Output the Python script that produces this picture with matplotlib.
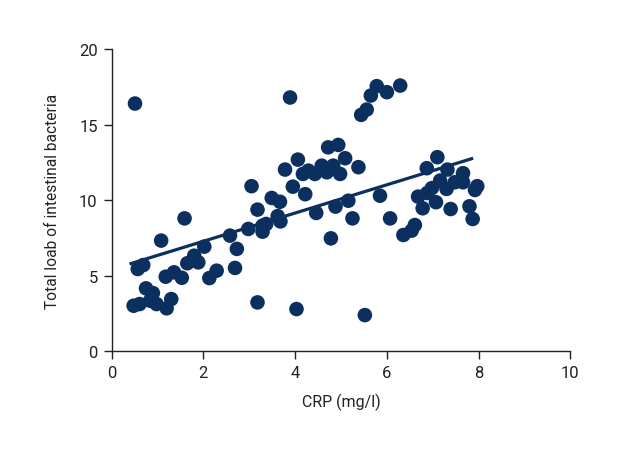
import matplotlib
matplotlib.use("Agg")
import matplotlib.pyplot as plt
from matplotlib import font_manager

crp = [0.51, 0.48, 0.61, 0.84, 0.98, 1.20, 1.30, 0.75, 0.90, 0.57, 0.69,
       1.18, 1.36, 1.53, 1.08, 1.59, 1.65, 1.80, 1.89, 2.02, 2.13, 2.29,
       2.69, 2.73, 2.58, 2.98, 3.18, 3.05, 3.18, 3.29, 3.37, 3.29, 3.49,
       3.67, 3.62, 3.68, 3.89, 3.78, 3.95, 4.06, 4.03, 4.22, 4.17, 4.29,
       4.43, 4.46, 4.58, 4.69, 4.83, 4.98, 4.72, 4.94, 4.78, 4.88, 5.09,
       5.16, 5.25, 5.38, 5.44, 5.56, 5.65, 5.78, 6.00, 6.29, 5.52, 5.85,
       6.07, 6.36, 6.54, 6.61, 6.68, 6.78, 6.87, 6.88, 6.98, 7.07, 7.10,
       7.16, 7.30, 7.32, 7.39, 7.48, 7.66, 7.66, 7.80, 7.87, 7.92, 7.97]
bacteria = [16.4, 3.02, 3.13, 3.35, 3.13, 2.85, 3.46, 4.17, 3.86, 5.45, 5.71,
            4.94, 5.23, 4.87, 7.33, 8.80, 5.83, 6.33, 5.89, 6.93, 4.85, 5.34,
            5.52, 6.78, 7.66, 8.10, 3.24, 10.93, 9.38, 8.32, 8.43, 7.92, 10.15,
            9.90, 8.95, 8.60, 16.8, 12.03, 10.90, 12.69, 2.80, 10.40, 11.74, 11.96,
            11.74, 9.16, 12.29, 11.85, 12.29, 11.74, 13.50, 13.66, 7.48, 9.58, 12.78,
            9.97, 8.80, 12.19, 15.65, 16.00, 16.93, 17.55, 17.15, 17.59, 2.40, 10.30,
            8.80, 7.70, 7.99, 8.36, 10.24, 9.47, 12.12, 10.48, 10.80, 9.87, 12.85,
            11.30, 10.75, 12.03, 9.42, 11.19, 11.19, 11.79, 9.60, 8.76, 10.68, 10.93]

fit_x = [0.39, 7.88]
fit_y = [5.78, 12.78]

x_ticks = [0, 2, 4, 6, 8, 10]
y_ticks = [0, 5, 10, 15, 20]

names = {f.name for f in font_manager.fontManager.ttflist}
fam = [f for f in ["Liberation Sans Narrow", "DejaVu Sans Condensed", "Roboto", "DejaVu Sans"] if f in names]
plt.rcParams['font.family'] = fam

color = '#0b2f5e'
fig = plt.figure(figsize=(6.2, 4.6), dpi=100)
ax = fig.add_axes([0.18, 0.234, 0.74, 0.657])

ax.scatter(crp, bacteria, s=110, color=color, edgecolors='none', zorder=3, clip_on=False)
ax.plot(fit_x, fit_y, color=color, lw=2.3, zorder=2, solid_capstyle='butt')

ax.set_xlim(0, 10)
ax.set_ylim(0, 20)
ax.set_xticks(x_ticks)
ax.set_yticks(y_ticks)
ax.spines['top'].set_visible(False)
ax.spines['right'].set_visible(False)
for s in ['left', 'bottom']:
    ax.spines[s].set_linewidth(1.0)
    ax.spines[s].set_color('#222222')
ax.tick_params(direction='out', length=6, width=1.0, colors='#222222',
               labelsize=12, labelcolor='#222222', pad=4)

ax.set_xlabel('CRP (mg/l)', fontsize=11.5, color='#222222', labelpad=9)
ax.set_ylabel('Total loab of intestinal bacteria', fontsize=11.2, color='#222222', labelpad=14)

fig.savefig('out.png', dpi=100)
